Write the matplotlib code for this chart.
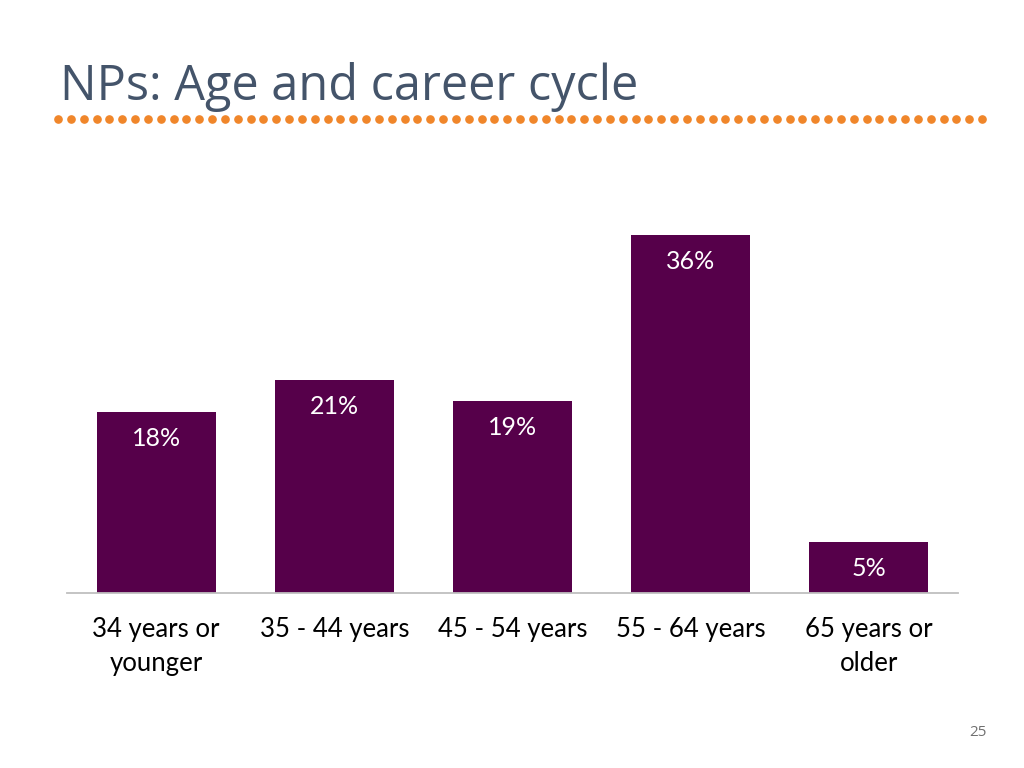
import numpy as np
import matplotlib
matplotlib.use("Agg")
import matplotlib.pyplot as plt

# ── Data ─────────────────────────────────────────────────────────────────────
categories = ["34 years or\nyounger", "35 - 44 years", "45 - 54 years",
              "55 - 64 years", "65 years or\nolder"]
shares = [18.2, 21.4, 19.3, 36.0, 5.1]
share_labels = ["18%", "21%", "19%", "36%", "5%"]

title = "NPs: Age and career cycle"
page_number = "25"

BAR_COLOR = "#56004A"
TITLE_COLOR = "#44546A"
DOT_COLOR = "#F0862A"

fig = plt.figure(figsize=(10.24, 7.68), dpi=100)
fig.patch.set_facecolor("white")

# title and dotted rule
fig.text(60 / 1024, 1 - 100 / 768, title, fontsize=35, color=TITLE_COLOR,
         family="Open Sans", ha="left", va="baseline")
dot_x = np.linspace(58, 982, 73) / 1024
fig.add_artist(plt.Line2D(dot_x, np.full_like(dot_x, 1 - 119 / 768),
                          linestyle="none", marker="o", markersize=5.2,
                          color=DOT_COLOR, transform=fig.transFigure))

# ── Bars ─────────────────────────────────────────────────────────────────────
ax = fig.add_axes([67 / 1024, 1 - 593 / 768, 891 / 1024, 398 / 768])
x = np.arange(len(categories))
bars = ax.bar(x, shares, width=0.667, color=BAR_COLOR, zorder=2)

for rect, lab in zip(bars, share_labels):
    ax.text(rect.get_x() + rect.get_width() / 2, rect.get_height() - 1.5, lab,
            ha="center", va="top", color="white", fontsize=18, family="Lato")

ax.set_xlim(-0.5, len(categories) - 0.5)
ax.set_ylim(0, 40)
ax.set_xticks(x)
ax.set_xticklabels(categories, fontsize=18.5, family="Lato", color="black",
                   linespacing=1.45)
ax.tick_params(axis="x", length=0, pad=17)
ax.set_yticks([])
for side in ["top", "left", "right"]:
    ax.spines[side].set_visible(False)
ax.spines["bottom"].set_color("#BFBFBF")
ax.spines["bottom"].set_linewidth(1.3)

fig.text(978 / 1024, 1 - 733 / 768, page_number, fontsize=11, color="#707070",
         family="Open Sans", ha="center", va="center")

fig.savefig("out.png", dpi=100, facecolor="white")
